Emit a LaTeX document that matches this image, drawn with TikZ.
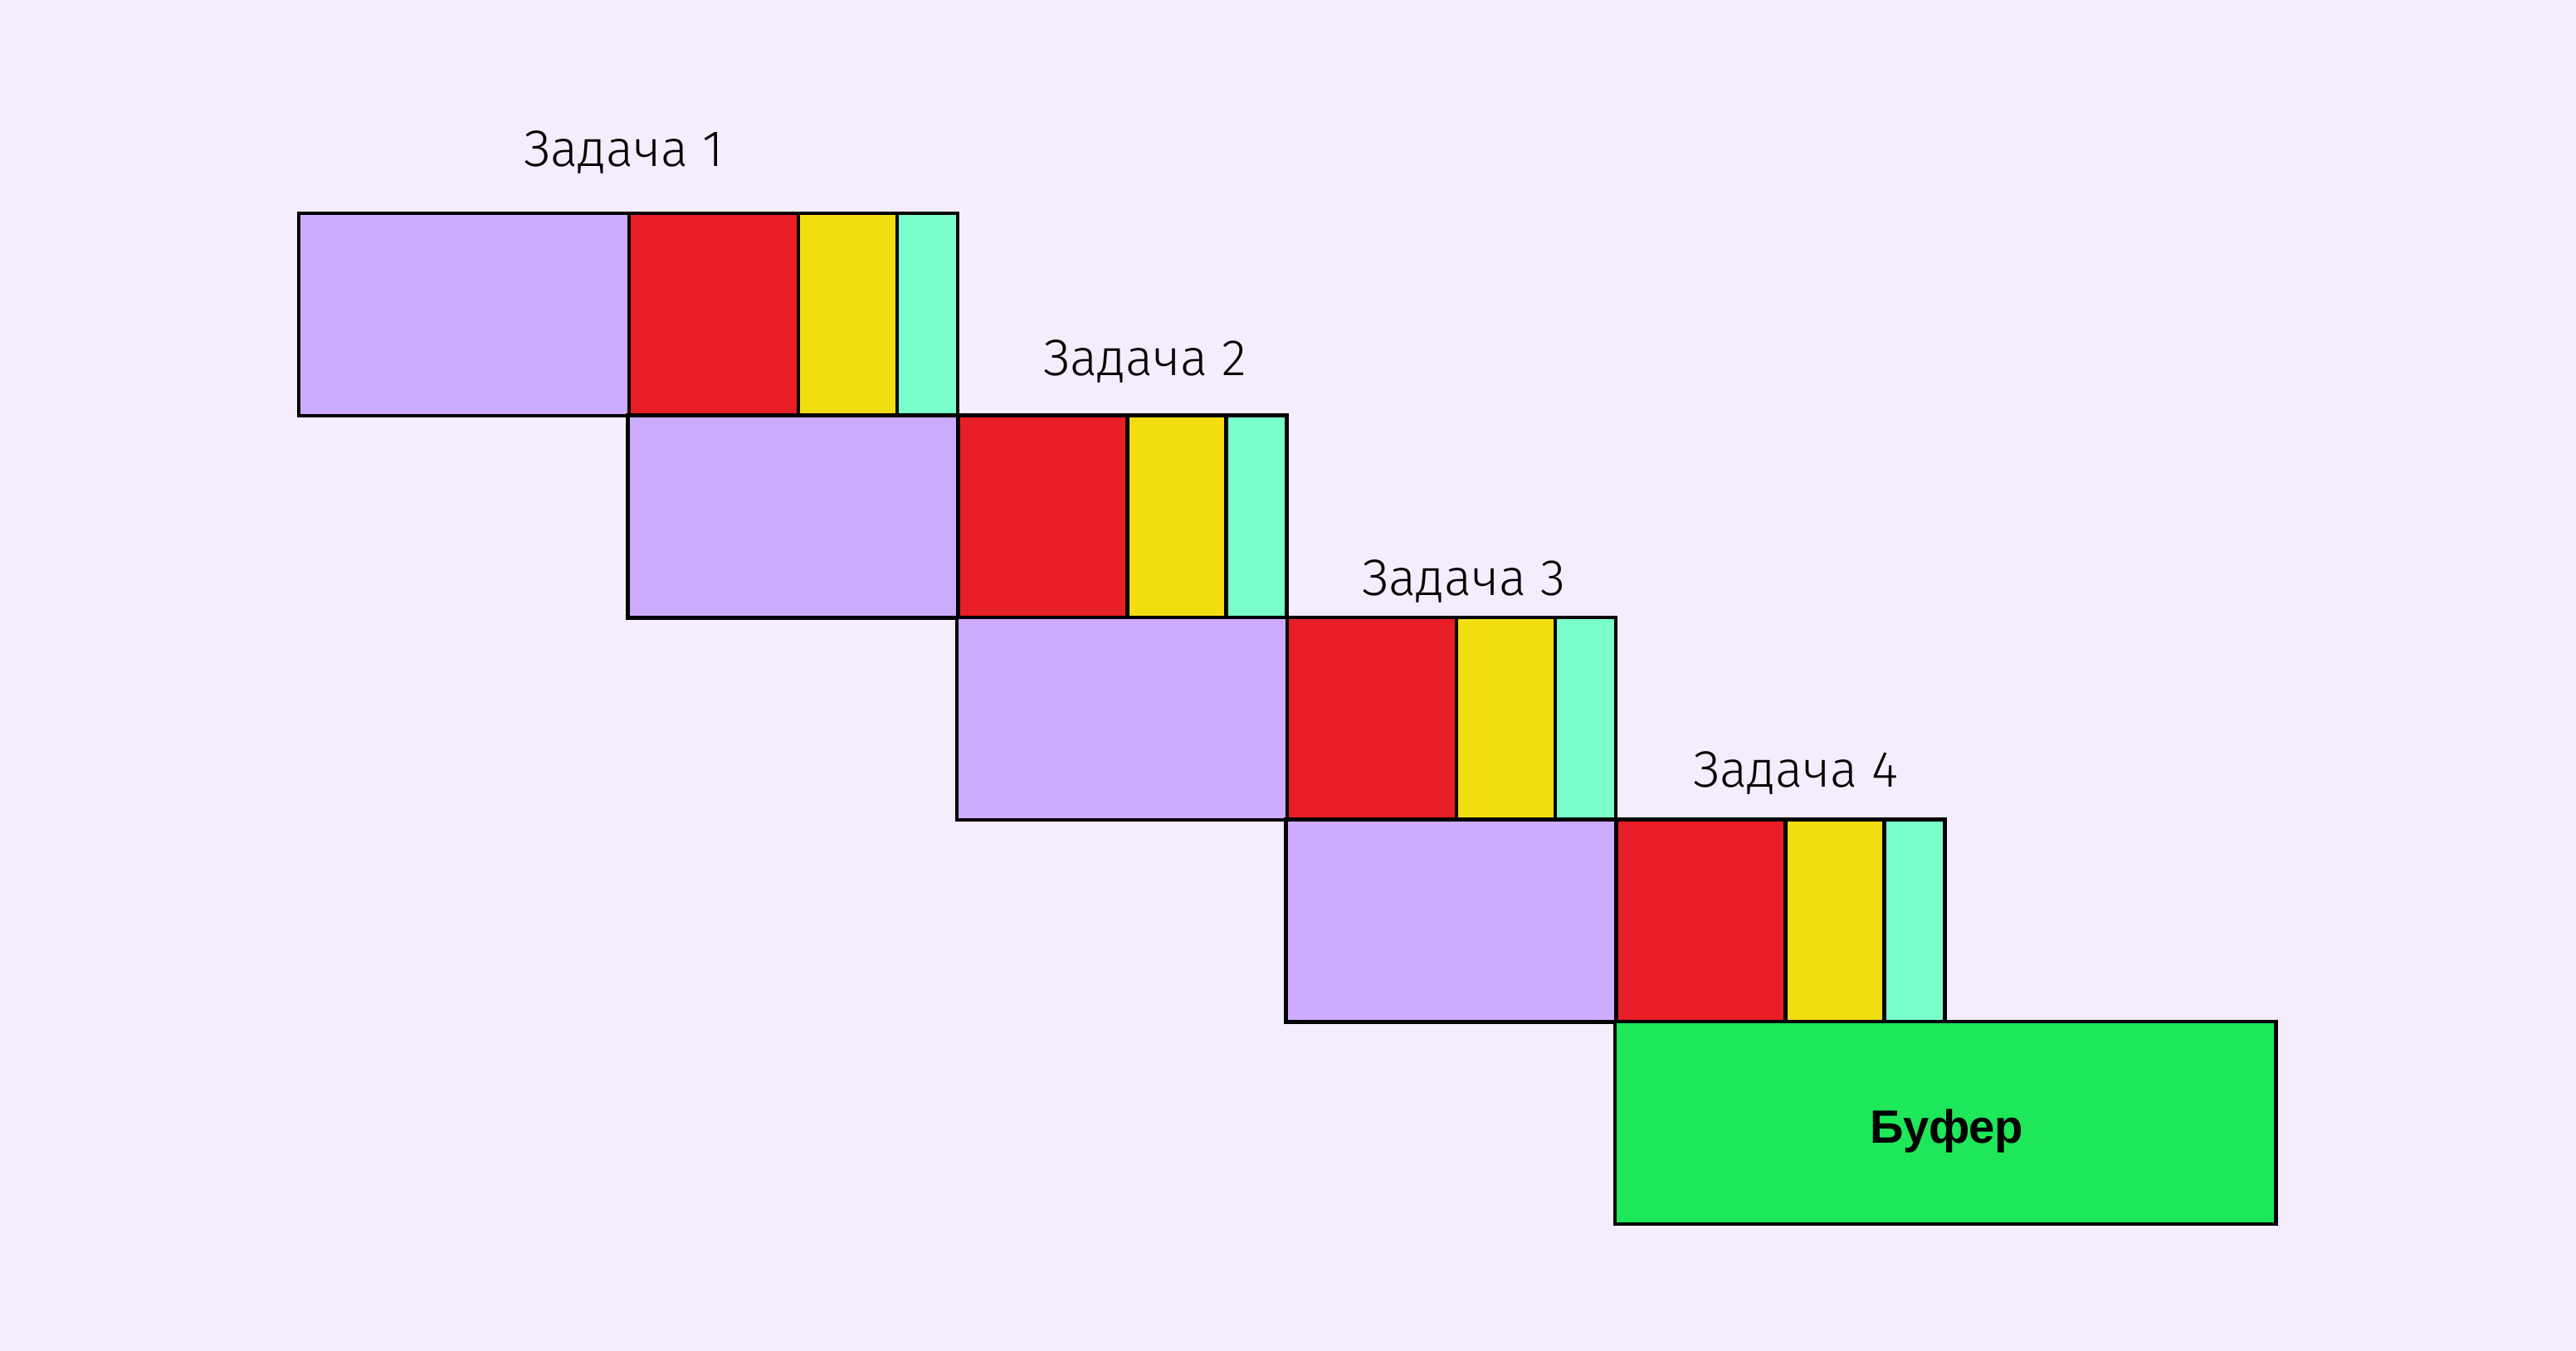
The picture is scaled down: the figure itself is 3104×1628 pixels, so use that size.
\documentclass[tikz,border=0pt]{standalone}
\usepackage{fontspec}
\setmainfont{Liberation Sans}
\newfontfamily\lblfont{Fira Sans Light}
\definecolor{bg}{HTML}{F5EDFD}
\definecolor{cpurp}{HTML}{CDABFD}
\definecolor{cred}{HTML}{E81E26}
\definecolor{cyel}{HTML}{F2DD10}
\definecolor{ccya}{HTML}{7AFFCB}
\definecolor{cgrn}{HTML}{1EE85A}
\tikzset{
  blk/.style={draw=black,line width=1.3pt,inner sep=0pt,outer sep=0pt,anchor=north west,minimum height=2.44cm},
  tasklbl/.style={font=\lblfont\fontsize{17.5}{20}\selectfont,text=black,inner sep=0pt},
}
\begin{document}
\begin{tikzpicture}[x=0.01cm,y=-0.01cm]
\fill[bg] (0,0) rectangle (3104,1628);
\useasboundingbox (0,0) rectangle (3104,1628);
\foreach \r in {0,1,2,3}{
  \pgfmathsetmacro{\xl}{360+396.5*\r}
  \pgfmathsetmacro{\yt}{257+243.5*\r}
  \node[blk,fill=cpurp,minimum width=3.98cm] (p\r) at (\xl,\yt) {};
  \node[blk,fill=cred,minimum width=2.04cm] (r\r) at (\xl+398,\yt) {};
  \node[blk,fill=cyel,minimum width=1.19cm] (y\r) at (\xl+602,\yt) {};
  \node[blk,fill=ccya,minimum width=0.73cm] (c\r) at (\xl+721,\yt) {};
}
\node[blk,fill=cgrn,minimum width=7.96cm] (buf) at (1946,1231) {};
\node[font=\fontsize{16}{20}\selectfont\bfseries,inner sep=0pt,anchor=base] (buftxt) at (2346,1377) {Буфер};
\node[tasklbl] (l1) at (752,184) {Задача 1};
\node[tasklbl] (l2) at (1380,436) {Задача 2};
\node[tasklbl] (l3) at (1764,701) {Задача 3};
\node[tasklbl] (l4) at (2164,932) {Задача 4};
\end{tikzpicture}
\end{document}
